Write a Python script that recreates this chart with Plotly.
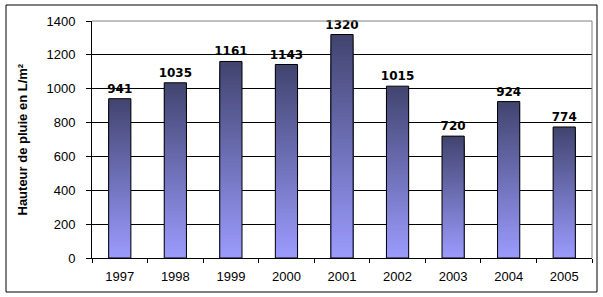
import plotly.graph_objects as go

years = ["1997", "1998", "1999", "2000", "2001", "2002", "2003", "2004", "2005"]
rain = [941, 1035, 1161, 1143, 1320, 1015, 720, 924, 774]
y_ticks = [0, 200, 400, 600, 800, 1000, 1200, 1400]
y_title = "Hauteur de pluie en L/m²"

top_rgb = (0x42, 0x45, 0x70)
bot_rgb = (0x9c, 0x9c, 0xff)
N = 60

fig = go.Figure()
for k in range(N, 0, -1):
    f = k / N
    c = tuple(round(bot_rgb[i] + (top_rgb[i] - bot_rgb[i]) * f) for i in range(3))
    fig.add_trace(go.Bar(
        x=years, y=[v * f for v in rain],
        marker=dict(color="rgb(%d,%d,%d)" % c, line=dict(width=0)),
        hoverinfo="skip", showlegend=False,
    ))
fig.add_trace(go.Bar(
    x=years, y=rain,
    marker=dict(color="rgba(0,0,0,0)", line=dict(color="black", width=1)),
    text=[str(v) for v in rain], textposition="outside", constraintext="none",
    textfont=dict(family="DejaVu Sans", size=12, color="black", weight="bold"),
    cliponaxis=False, showlegend=False,
))

L, R, T, B = 92, 11, 21, 39
W, H = 603, 297
pw, ph = W - L - R, H - T - B

def px_to_paper_x(px):
    return (px - L) / pw

def px_to_paper_y(py):
    return (H - B - py) / ph

tick_font = dict(family="Liberation Sans, Arial", size=13, color="black")

fig.update_layout(
    width=W, height=H,
    margin=dict(l=L, r=R, t=T, b=B),
    barmode="overlay", bargap=0.6,
    paper_bgcolor="white", plot_bgcolor="white",
    font=dict(family="Liberation Sans, Arial", size=12, color="black"),
    xaxis=dict(
        type="category", showgrid=False, showline=True, linecolor="black", linewidth=1,
        ticks="outside", tickson="boundaries", ticklen=4, tickcolor="black",
        tickfont=tick_font, ticklabelstandoff=6,
    ),
    yaxis=dict(
        range=[0, 1400], tickvals=y_ticks, showgrid=True, gridcolor="black", gridwidth=1,
        showline=True, linecolor="black", linewidth=1, ticks="outside", ticklen=5,
        tickcolor="black", tickfont=tick_font, zeroline=False, ticklabelstandoff=8,
    ),
    annotations=[dict(
        text=y_title, textangle=-90, showarrow=False,
        xref="paper", yref="paper", x=px_to_paper_x(22), y=0.5,
        xanchor="center", yanchor="middle",
        font=dict(family="Liberation Sans, Arial", size=13, weight="bold", color="black"),
    )],
    shapes=[
        dict(type="line", xref="paper", yref="paper", x0=0, x1=1, y0=1, y1=1,
             line=dict(color="#808080", width=1), layer="above"),
        dict(type="line", xref="paper", yref="paper", x0=1, x1=1, y0=0, y1=1,
             line=dict(color="#808080", width=1), layer="above"),
        dict(type="rect", xref="paper", yref="paper",
             x0=px_to_paper_x(6), x1=px_to_paper_x(597),
             y0=px_to_paper_y(292), y1=px_to_paper_y(5),
             line=dict(color="black", width=1), layer="above"),
    ],
)

fig.write_html("out.html")
